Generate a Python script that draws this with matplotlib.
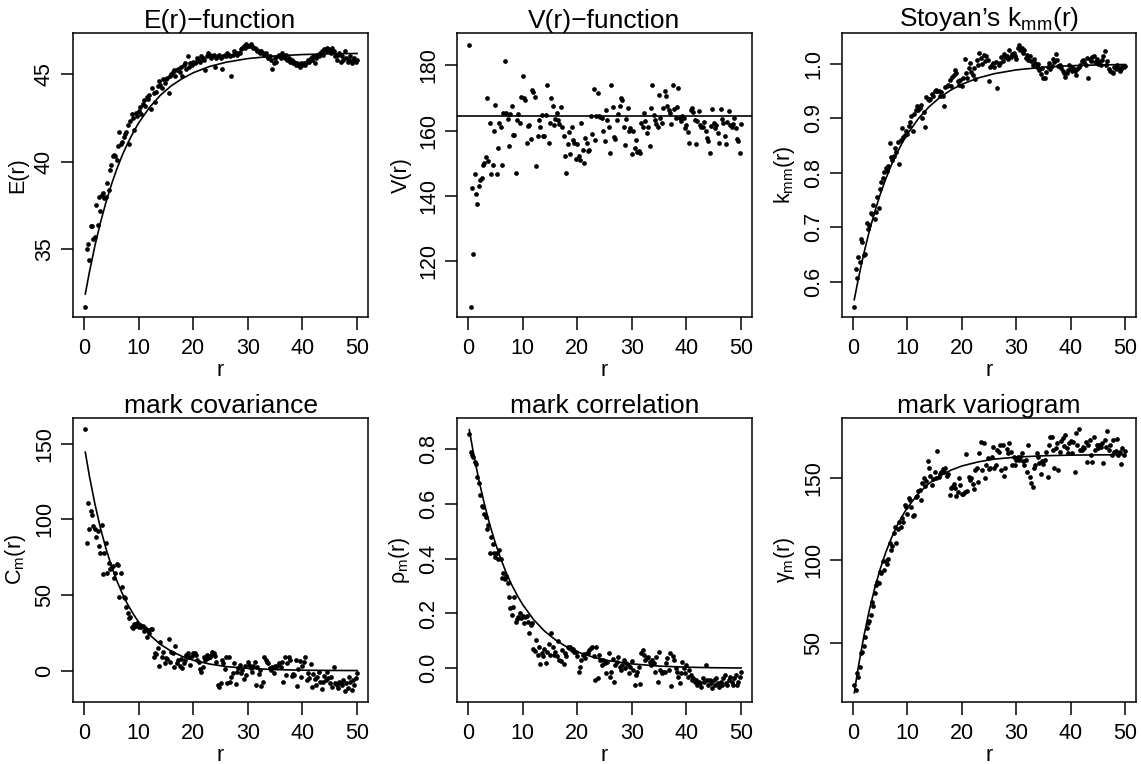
import matplotlib
matplotlib.use("Agg")
import matplotlib.pyplot as plt

plt.rcParams["font.family"] = ["Liberation Sans", "DejaVu Sans"]
plt.rcParams["mathtext.fontset"] = "custom"
plt.rcParams["mathtext.rm"] = "Liberation Sans"
plt.rcParams["mathtext.it"] = "Liberation Sans"

# distance grid r (200 points, spacing 0.25)
R = [
    0.25, 0.5, 0.75, 1.0, 1.25, 1.5, 1.75, 2.0, 2.25, 2.5, 2.75, 3.0, 3.25, 3.5, 3.75, 4.0, 4.25, 4.5, 4.75, 5.0,
    5.25, 5.5, 5.75, 6.0, 6.25, 6.5, 6.75, 7.0, 7.25, 7.5, 7.75, 8.0, 8.25, 8.5, 8.75, 9.0, 9.25, 9.5, 9.75, 10.0,
    10.25, 10.5, 10.75, 11.0, 11.25, 11.5, 11.75, 12.0, 12.25, 12.5, 12.75, 13.0, 13.25, 13.5, 13.75, 14.0, 14.25, 14.5, 14.75, 15.0,
    15.25, 15.5, 15.75, 16.0, 16.25, 16.5, 16.75, 17.0, 17.25, 17.5, 17.75, 18.0, 18.25, 18.5, 18.75, 19.0, 19.25, 19.5, 19.75, 20.0,
    20.25, 20.5, 20.75, 21.0, 21.25, 21.5, 21.75, 22.0, 22.25, 22.5, 22.75, 23.0, 23.25, 23.5, 23.75, 24.0, 24.25, 24.5, 24.75, 25.0,
    25.25, 25.5, 25.75, 26.0, 26.25, 26.5, 26.75, 27.0, 27.25, 27.5, 27.75, 28.0, 28.25, 28.5, 28.75, 29.0, 29.25, 29.5, 29.75, 30.0,
    30.25, 30.5, 30.75, 31.0, 31.25, 31.5, 31.75, 32.0, 32.25, 32.5, 32.75, 33.0, 33.25, 33.5, 33.75, 34.0, 34.25, 34.5, 34.75, 35.0,
    35.25, 35.5, 35.75, 36.0, 36.25, 36.5, 36.75, 37.0, 37.25, 37.5, 37.75, 38.0, 38.25, 38.5, 38.75, 39.0, 39.25, 39.5, 39.75, 40.0,
    40.25, 40.5, 40.75, 41.0, 41.25, 41.5, 41.75, 42.0, 42.25, 42.5, 42.75, 43.0, 43.25, 43.5, 43.75, 44.0, 44.25, 44.5, 44.75, 45.0,
    45.25, 45.5, 45.75, 46.0, 46.25, 46.5, 46.75, 47.0, 47.25, 47.5, 47.75, 48.0, 48.25, 48.5, 48.75, 49.0, 49.25, 49.5, 49.75, 50.0,
]

E_VALUES = [
    31.7, 35.0, 35.3, 34.4, 36.3, 36.3, 35.6, 35.7, 37.5, 36.4, 38.0, 37.2, 38.1, 38.2, 37.9, 38.0, 38.8, 38.4, 39.5, 39.8,
    40.3, 40.4, 40.3, 40.1, 40.9, 41.7, 41.0, 41.1, 41.4, 41.6, 41.7, 42.1, 41.0, 42.3, 42.7, 42.5, 41.8, 42.8, 42.6, 42.9,
    43.1, 42.7, 43.3, 43.5, 43.2, 43.7, 43.6, 43.8, 43.0, 44.2, 43.9, 43.4, 44.0, 44.3, 44.6, 44.4, 44.2, 44.7, 44.5, 44.7,
    44.8, 43.9, 44.9, 45.0, 45.1, 45.2, 44.9, 45.2, 45.3, 45.1, 45.4, 44.9, 45.5, 45.6, 45.3, 46.0, 45.4, 45.6, 45.5, 45.7,
    45.6, 45.7, 45.9, 45.8, 45.7, 46.0, 45.9, 45.8, 45.2, 46.0, 46.2, 46.1, 45.9, 46.0, 46.1, 45.4, 45.9, 46.0, 46.1, 45.9,
    45.3, 46.0, 46.1, 46.0, 46.2, 46.1, 46.0, 44.9, 46.1, 46.3, 46.2, 46.1, 46.2, 46.2, 46.4, 46.5, 46.6, 46.5, 46.7, 46.6,
    46.6, 46.7, 46.6, 46.5, 46.5, 46.4, 46.3, 46.3, 46.2, 46.3, 46.2, 46.1, 46.2, 46.0, 45.9, 46.0, 45.8, 45.3, 45.6, 45.9,
    45.7, 46.0, 46.1, 45.9, 46.2, 46.0, 45.9, 46.1, 45.8, 45.9, 45.7, 45.8, 45.6, 45.7, 45.5, 45.6, 45.5, 45.4, 45.6, 45.5,
    45.6, 45.5, 45.7, 45.8, 45.7, 45.9, 45.8, 46.0, 45.6, 45.9, 46.1, 46.0, 46.2, 46.3, 46.1, 46.4, 46.3, 46.5, 46.4, 46.3,
    46.2, 46.5, 46.3, 46.0, 45.8, 46.1, 46.2, 45.7, 46.0, 45.8, 46.3, 45.9, 45.7, 45.8, 46.0, 45.6, 45.8, 45.9, 45.7, 45.8,
]

V_VALUES = [
    186.2, 106.1, 142.3, 122.4, 146.7, 140.6, 137.6, 143.1, 144.9, 145.4, 149.5, 150.0, 151.8, 169.8, 150.8, 162.2, 146.7, 149.5, 159.7, 167.9,
    146.7, 154.6, 162.2, 161.0, 149.5, 165.5, 181.3, 165.5, 163.5, 155.3, 165.1, 167.5, 158.6, 158.6, 147.1, 163.1, 165.1, 162.2, 170.2, 176.7,
    169.8, 169.4, 156.3, 161.4, 161.7, 157.3, 172.4, 171.9, 170.2, 149.2, 158.2, 163.1, 161.2, 164.8, 158.4, 158.4, 164.8, 174.0, 156.3, 162.4,
    169.8, 167.5, 161.7, 163.5, 165.5, 163.1, 162.0, 167.3, 161.2, 158.4, 152.2, 147.0, 155.8, 159.4, 152.9, 161.0, 157.1, 156.3, 151.2, 155.9,
    152.2, 151.0, 162.4, 154.1, 150.0, 157.8, 156.3, 153.7, 154.0, 164.3, 158.8, 172.7, 157.0, 164.3, 171.6, 164.5, 164.1, 163.8, 160.0, 156.7,
    166.3, 163.1, 161.0, 153.1, 174.0, 167.1, 157.9, 157.3, 163.1, 165.1, 167.6, 169.9, 169.2, 161.0, 155.6, 163.5, 166.9, 159.8, 160.8, 152.9,
    159.8, 154.7, 157.1, 153.4, 153.7, 153.2, 162.4, 161.0, 165.3, 162.8, 159.2, 161.2, 155.3, 166.8, 174.0, 164.6, 163.3, 162.0, 161.2, 170.9,
    163.8, 162.4, 166.8, 172.2, 170.4, 167.5, 166.3, 165.5, 162.0, 174.0, 166.5, 163.8, 167.1, 172.9, 163.9, 162.9, 164.4, 163.7, 160.7, 161.7,
    159.4, 156.3, 166.3, 166.8, 165.8, 163.1, 155.9, 162.8, 166.1, 161.7, 161.2, 161.0, 162.7, 160.0, 157.6, 156.9, 153.1, 161.4, 166.5, 162.4,
    160.7, 161.7, 159.3, 156.3, 166.5, 163.5, 162.4, 158.4, 155.9, 162.7, 166.1, 161.8, 161.2, 162.0, 163.7, 160.7, 157.4, 156.7, 153.1, 162.0,
]
V_LEVEL = 164.5

K_VALUES = [
    0.554, 0.623, 0.606, 0.646, 0.637, 0.678, 0.672, 0.649, 0.651, 0.708, 0.696, 0.705, 0.727, 0.725, 0.741, 0.716, 0.728, 0.755, 0.735, 0.771,
    0.784, 0.790, 0.802, 0.808, 0.804, 0.812, 0.855, 0.830, 0.824, 0.831, 0.845, 0.838, 0.857, 0.816, 0.860, 0.882, 0.866, 0.869, 0.876, 0.872,
    0.886, 0.894, 0.904, 0.877, 0.908, 0.915, 0.922, 0.916, 0.919, 0.925, 0.900, 0.912, 0.884, 0.940, 0.935, 0.933, 0.936, 0.945, 0.942, 0.950,
    0.953, 0.951, 0.950, 0.942, 0.948, 0.941, 0.923, 0.958, 0.960, 0.962, 0.971, 0.960, 0.977, 0.980, 0.989, 0.984, 0.968, 0.962, 0.970, 0.960,
    0.975, 1.009, 0.983, 0.975, 0.992, 1.002, 0.985, 0.979, 0.992, 0.973, 1.007, 0.999, 1.020, 1.011, 1.000, 1.017, 1.005, 1.015, 1.008, 0.968,
    0.995, 0.998, 1.001, 0.995, 1.004, 0.955, 0.998, 1.001, 1.013, 1.006, 1.019, 1.012, 1.015, 1.010, 1.026, 1.013, 1.018, 1.020, 1.015, 1.010,
    1.029, 1.035, 1.026, 1.029, 1.020, 1.026, 1.011, 1.017, 1.008, 1.014, 1.005, 0.998, 1.010, 1.002, 0.995, 1.000, 0.989, 0.981, 0.992, 0.975,
    0.975, 0.986, 0.995, 1.002, 0.991, 0.997, 1.010, 1.004, 1.018, 1.007, 0.997, 0.999, 0.993, 0.987, 0.983, 0.977, 0.983, 0.989, 0.998, 0.992,
    0.987, 0.993, 0.987, 0.980, 0.990, 0.994, 0.999, 1.005, 1.008, 1.003, 0.998, 1.011, 0.975, 1.010, 1.006, 1.012, 1.015, 1.003, 1.009, 1.000,
    1.004, 0.998, 1.007, 1.015, 1.023, 0.998, 1.005, 0.990, 0.987, 0.985, 0.983, 0.995, 0.991, 0.998, 0.993, 0.988, 0.990, 0.997, 0.994, 0.996,
]

C_VALUES = [
    159.4, 84.1, 110.9, 93.3, 105.7, 102.8, 95.5, 93.3, 88.5, 92.4, 82.3, 77.5, 96.2, 63.8, 77.9, 84.1, 64.7, 70.9, 66.9, 68.0,
    69.1, 61.0, 64.3, 70.4, 69.8, 48.9, 64.3, 55.0, 48.4, 47.8, 42.3, 38.0, 34.6, 35.7, 29.1, 28.0, 30.8, 29.5, 31.2, 28.6,
    30.2, 29.1, 29.5, 26.4, 28.0, 22.5, 26.9, 24.8, 27.3, 27.7, 9.2, 11.4, 11.0, 14.7, 3.1, 19.2, 9.2, 12.0, 5.3, 8.4,
    7.5, 20.7, 5.9, 12.5, 11.4, 2.6, 16.3, 4.8, 7.0, 3.1, 7.5, 1.5, 5.3, 7.0, 10.3, 11.9, 8.8, 4.0, 9.5, 11.4,
    11.4, 10.3, 7.0, 5.9, 0.9, -0.7, 2.6, 9.2, 7.0, 10.3, 8.1, 9.2, 10.3, 12.5, 11.9, 9.7, 6.0, -9.5, -10.8, -8.4,
    7.0, 4.8, 1.3, 8.8, -8.4, 9.2, -7.3, -4.0, -1.8, 4.8, -8.8, -0.7, 1.5, 3.7, -1.8, 0.4, -5.3, 2.8, -2.9, 5.6,
    3.7, 1.5, -0.7, 3.1, 5.9, -9.5, 2.6, -2.2, 0.4, -10.1, -7.3, 8.8, 7.0, 5.9, 4.8, 1.5, 0.4, 2.4, -1.5, 3.3,
    2.6, 3.7, 4.8, 2.6, 5.9, -7.3, 8.8, -2.9, 4.8, 9.2, 7.0, -3.5, -2.2, -2.9, 7.0, -10.1, 1.2, 6.1, -4.4, 3.0,
    5.9, 8.8, -6.2, -1.8, -5.1, 4.4, -10.6, -2.2, -5.7, -9.5, -4.0, -0.7, -7.3, -12.3, -7.3, -3.5, -6.2, -1.2, -4.8, -8.0,
    -4.0, -10.6, 2.2, -8.4, -9.5, -11.7, -7.3, -7.9, -9.5, -6.0, -13.2, -8.4, -11.7, -4.5, -7.3, -12.8, -6.2, -9.8, -5.1, -1.3,
]

RHO_VALUES = [
    0.855, 0.790, 0.778, 0.770, 0.754, 0.745, 0.697, 0.675, 0.632, 0.592, 0.590, 0.563, 0.553, 0.507, 0.523, 0.422, 0.478, 0.453, 0.422, 0.405,
    0.419, 0.398, 0.432, 0.398, 0.328, 0.349, 0.325, 0.335, 0.310, 0.259, 0.219, 0.195, 0.222, 0.261, 0.170, 0.179, 0.186, 0.200, 0.183, 0.190,
    0.167, 0.188, 0.191, 0.170, 0.128, 0.158, 0.164, 0.069, 0.064, 0.103, 0.049, 0.079, 0.016, 0.055, 0.043, 0.072, 0.021, 0.060, 0.088, 0.050,
    0.128, 0.077, 0.049, 0.061, 0.043, 0.101, 0.030, 0.028, 0.067, 0.016, 0.055, 0.045, 0.079, 0.073, 0.077, 0.067, 0.070, 0.058, 0.061, 0.045,
    -0.012, 0.006, 0.030, 0.049, 0.052, 0.036, 0.057, 0.055, 0.065, 0.073, 0.077, 0.045, -0.043, 0.077, -0.037, 0.050, 0.032, 0.012, 0.030, 0.018,
    -0.018, 0.023, 0.055, -0.030, -0.012, 0.033, -0.049, 0.012, 0.024, 0.042, 0.006, -0.006, 0.012, 0.030, 0.000, 0.020, 0.012, -0.018, 0.006, 0.028,
    -0.006, -0.061, -0.024, -0.012, 0.006, -0.057, 0.055, 0.067, 0.049, 0.030, 0.036, 0.042, 0.024, 0.012, 0.030, 0.018, -0.012, 0.040, -0.049, 0.058,
    -0.006, -0.016, -0.012, -0.012, 0.018, 0.036, -0.006, 0.055, -0.064, 0.043, 0.030, 0.000, -0.012, -0.030, -0.055, -0.018, 0.024, 0.000, -0.018, 0.012,
    -0.030, -0.006, -0.024, -0.043, -0.036, -0.049, -0.043, -0.061, -0.049, -0.055, -0.070, -0.036, -0.049, 0.012, -0.043, -0.061, -0.043, -0.053, -0.073, -0.043,
    -0.061, -0.036, -0.055, -0.067, -0.049, -0.061, -0.036, -0.024, -0.055, -0.061, -0.043, -0.030, -0.049, -0.062, -0.036, -0.024, -0.061, -0.049, -0.030, -0.012,
]

GAMMA_VALUES = [
    24.3, 21.3, 31.4, 29.4, 35.1, 43.9, 44.5, 48.0, 53.6, 58.7, 61.7, 63.0, 66.8, 74.8, 72.0, 80.3, 84.9, 87.0, 86.0, 93.0,
    92.5, 99.7, 94.0, 99.7, 98.0, 100.5, 110.2, 106.2, 108.5, 116.7, 120.3, 110.2, 118.7, 123.3, 120.0, 125.4, 123.0, 133.4, 132.5, 128.0,
    137.5, 136.8, 132.0, 126.9, 127.5, 138.5, 139.0, 142.1, 142.6, 136.5, 146.6, 149.6, 145.0, 147.8, 160.3, 155.7, 151.0, 145.6, 149.0, 153.6,
    150.1, 166.4, 150.6, 152.2, 153.6, 155.0, 153.6, 155.7, 151.0, 152.5, 139.5, 143.5, 144.5, 146.2, 143.5, 138.9, 141.5, 149.6, 145.6, 140.1,
    140.1, 141.5, 164.3, 142.1, 150.6, 148.5, 149.6, 146.2, 142.9, 154.6, 156.2, 147.5, 164.7, 171.8, 154.6, 171.2, 150.0, 157.5, 162.0, 155.0,
    156.2, 162.3, 168.4, 155.7, 157.7, 166.8, 165.8, 169.8, 154.6, 169.8, 151.0, 156.2, 167.2, 165.2, 170.8, 165.8, 157.7, 162.3, 158.0, 161.0,
    162.3, 160.7, 162.7, 165.2, 160.3, 157.7, 160.7, 153.6, 169.8, 150.6, 147.0, 144.5, 156.0, 157.7, 164.7, 162.3, 159.0, 152.2, 160.0, 158.5,
    160.7, 165.8, 150.6, 169.8, 174.8, 174.4, 166.8, 155.7, 167.8, 170.8, 154.6, 165.8, 172.4, 173.8, 169.2, 175.9, 168.0, 164.7, 171.0, 172.5,
    164.7, 171.8, 153.6, 177.3, 169.8, 179.3, 167.0, 166.8, 168.8, 167.8, 171.8, 159.7, 169.8, 172.8, 163.7, 159.7, 174.8, 166.8, 170.0, 168.0,
    169.8, 168.8, 171.2, 158.7, 172.8, 168.8, 178.5, 166.8, 169.8, 164.0, 172.8, 165.7, 166.0, 173.4, 163.7, 165.5, 158.3, 168.0, 163.7, 166.0,
]

# fitted model curves, read at a coarser set of r values
LINE_R = [0.25, 1, 2, 3, 4, 5, 6, 7, 8, 9, 10, 12, 14, 16, 18, 20, 23, 26, 30, 35, 40, 45, 50]
E_LINE = [32.44, 33.69, 35.18, 36.49, 37.64, 38.66, 39.56, 40.35, 41.04, 41.65, 42.20, 43.09, 43.79,
          44.33, 44.74, 45.07, 45.43, 45.67, 45.88, 46.03, 46.11, 46.15, 46.17]
K_LINE = [0.5667, 0.6052, 0.6513, 0.6921, 0.7280, 0.7598, 0.7878, 0.8127, 0.8345, 0.8539, 0.8709, 0.8993,
          0.9215, 0.9388, 0.9522, 0.9627, 0.9743, 0.9823, 0.9892, 0.9942, 0.9969, 0.9983, 0.9991]
C_LINE = [144.3, 128.6, 110.3, 94.5, 81.1, 69.5, 59.6, 51.1, 43.8, 37.6, 32.2, 23.7, 17.4, 12.8, 9.4,
          6.9, 4.4, 2.7, 1.5, 0.7, 0.3, 0.15, 0.07]
RHO_LINE = [0.870, 0.786, 0.687, 0.600, 0.524, 0.458, 0.400, 0.349, 0.305, 0.267, 0.233, 0.178, 0.136,
            0.104, 0.079, 0.060, 0.040, 0.027, 0.016, 0.008, 0.004, 0.002, 0.001]
GAMMA_LINE = [19.7, 35.4, 53.7, 69.5, 82.9, 94.5, 104.4, 112.9, 120.2, 126.4, 131.8, 140.3, 146.6,
              151.2, 154.6, 157.1, 159.6, 161.3, 162.5, 163.3, 163.7, 163.85, 163.93]

X_TICKS = [0, 10, 20, 30, 40, 50]

PANELS = [
    dict(title="E(r)\u2212function", ylabel="E(r)", y=E_VALUES, line=E_LINE,
         ylim=(31.13, 47.34), yticks=[35, 40, 45], yfmt="{:g}"),
    dict(title="V(r)\u2212function", ylabel="V(r)", y=V_VALUES, hline=V_LEVEL,
         ylim=(103.0, 189.8), yticks=[120, 140, 160, 180], yfmt="{:g}"),
    dict(title="Stoyan\u2019s $\\mathregular{k_{mm}(r)}$", ylabel="$\\mathregular{k_{mm}(r)}$", y=K_VALUES,
         line=K_LINE, ylim=(0.535, 1.057), yticks=[0.6, 0.7, 0.8, 0.9, 1.0], yfmt="{:.1f}"),
    dict(title="mark covariance", ylabel="$\\mathregular{C_m(r)}$", y=C_VALUES, line=C_LINE,
         ylim=(-20.7, 166.9), yticks=[0, 50, 100, 150], yfmt="{:g}"),
    dict(title="mark correlation", ylabel="$\\mathregular{\\rho_m(r)}$", y=RHO_VALUES, line=RHO_LINE,
         ylim=(-0.123, 0.913), yticks=[0.0, 0.2, 0.4, 0.6, 0.8], yfmt="{:.1f}"),
    dict(title="mark variogram", ylabel="$\\mathregular{\\gamma_m(r)}$", y=GAMMA_VALUES, line=GAMMA_LINE,
         ylim=(14.1, 186.2), yticks=[50, 100, 150], yfmt="{:g}"),
]

W, H = 1141, 764
COL_LEFT = [73, 457, 842]
COL_WIDTH = [295, 295, 294]
ROW_TOP = [33, 418]
BOX_HEIGHT = 284

fig = plt.figure(figsize=(W / 100, H / 100), dpi=100)

for i, p in enumerate(PANELS):
    row, col = divmod(i, 3)
    left = COL_LEFT[col] / W
    bottom = 1 - (ROW_TOP[row] + BOX_HEIGHT) / H
    ax = fig.add_axes([left, bottom, COL_WIDTH[col] / W, BOX_HEIGHT / H])

    ax.plot(R, p["y"], "o", color="black", markersize=3.4, markeredgewidth=0)
    if "line" in p:
        ax.plot(LINE_R, p["line"], color="black", linewidth=1.2)
    else:
        ax.axhline(p["hline"], color="black", linewidth=1.2)

    ax.set_xlim(-2, 52)
    ax.set_ylim(*p["ylim"])
    ax.set_xticks(X_TICKS)
    ax.set_yticks(p["yticks"])
    ax.set_yticklabels([p["yfmt"].format(v) for v in p["yticks"]])

    for s in ax.spines.values():
        s.set_linewidth(1.1)
    ax.tick_params(direction="out", length=9, width=1.1, labelsize=15.5, color="black")
    ax.tick_params(axis="x", pad=6)
    ax.tick_params(axis="y", pad=4, labelrotation=90)
    for lab in ax.get_yticklabels():
        lab.set_verticalalignment("center")

    ax.set_title(p["title"], fontsize=19, pad=1)
    ax.set_xlabel("r", fontsize=15.5)
    ax.xaxis.set_label_coords(0.5, -0.15)
    ax.set_ylabel(p["ylabel"], fontsize=15.5)
    ax.yaxis.set_label_coords(-0.152, 0.5)

fig.savefig("out.png", dpi=100)
